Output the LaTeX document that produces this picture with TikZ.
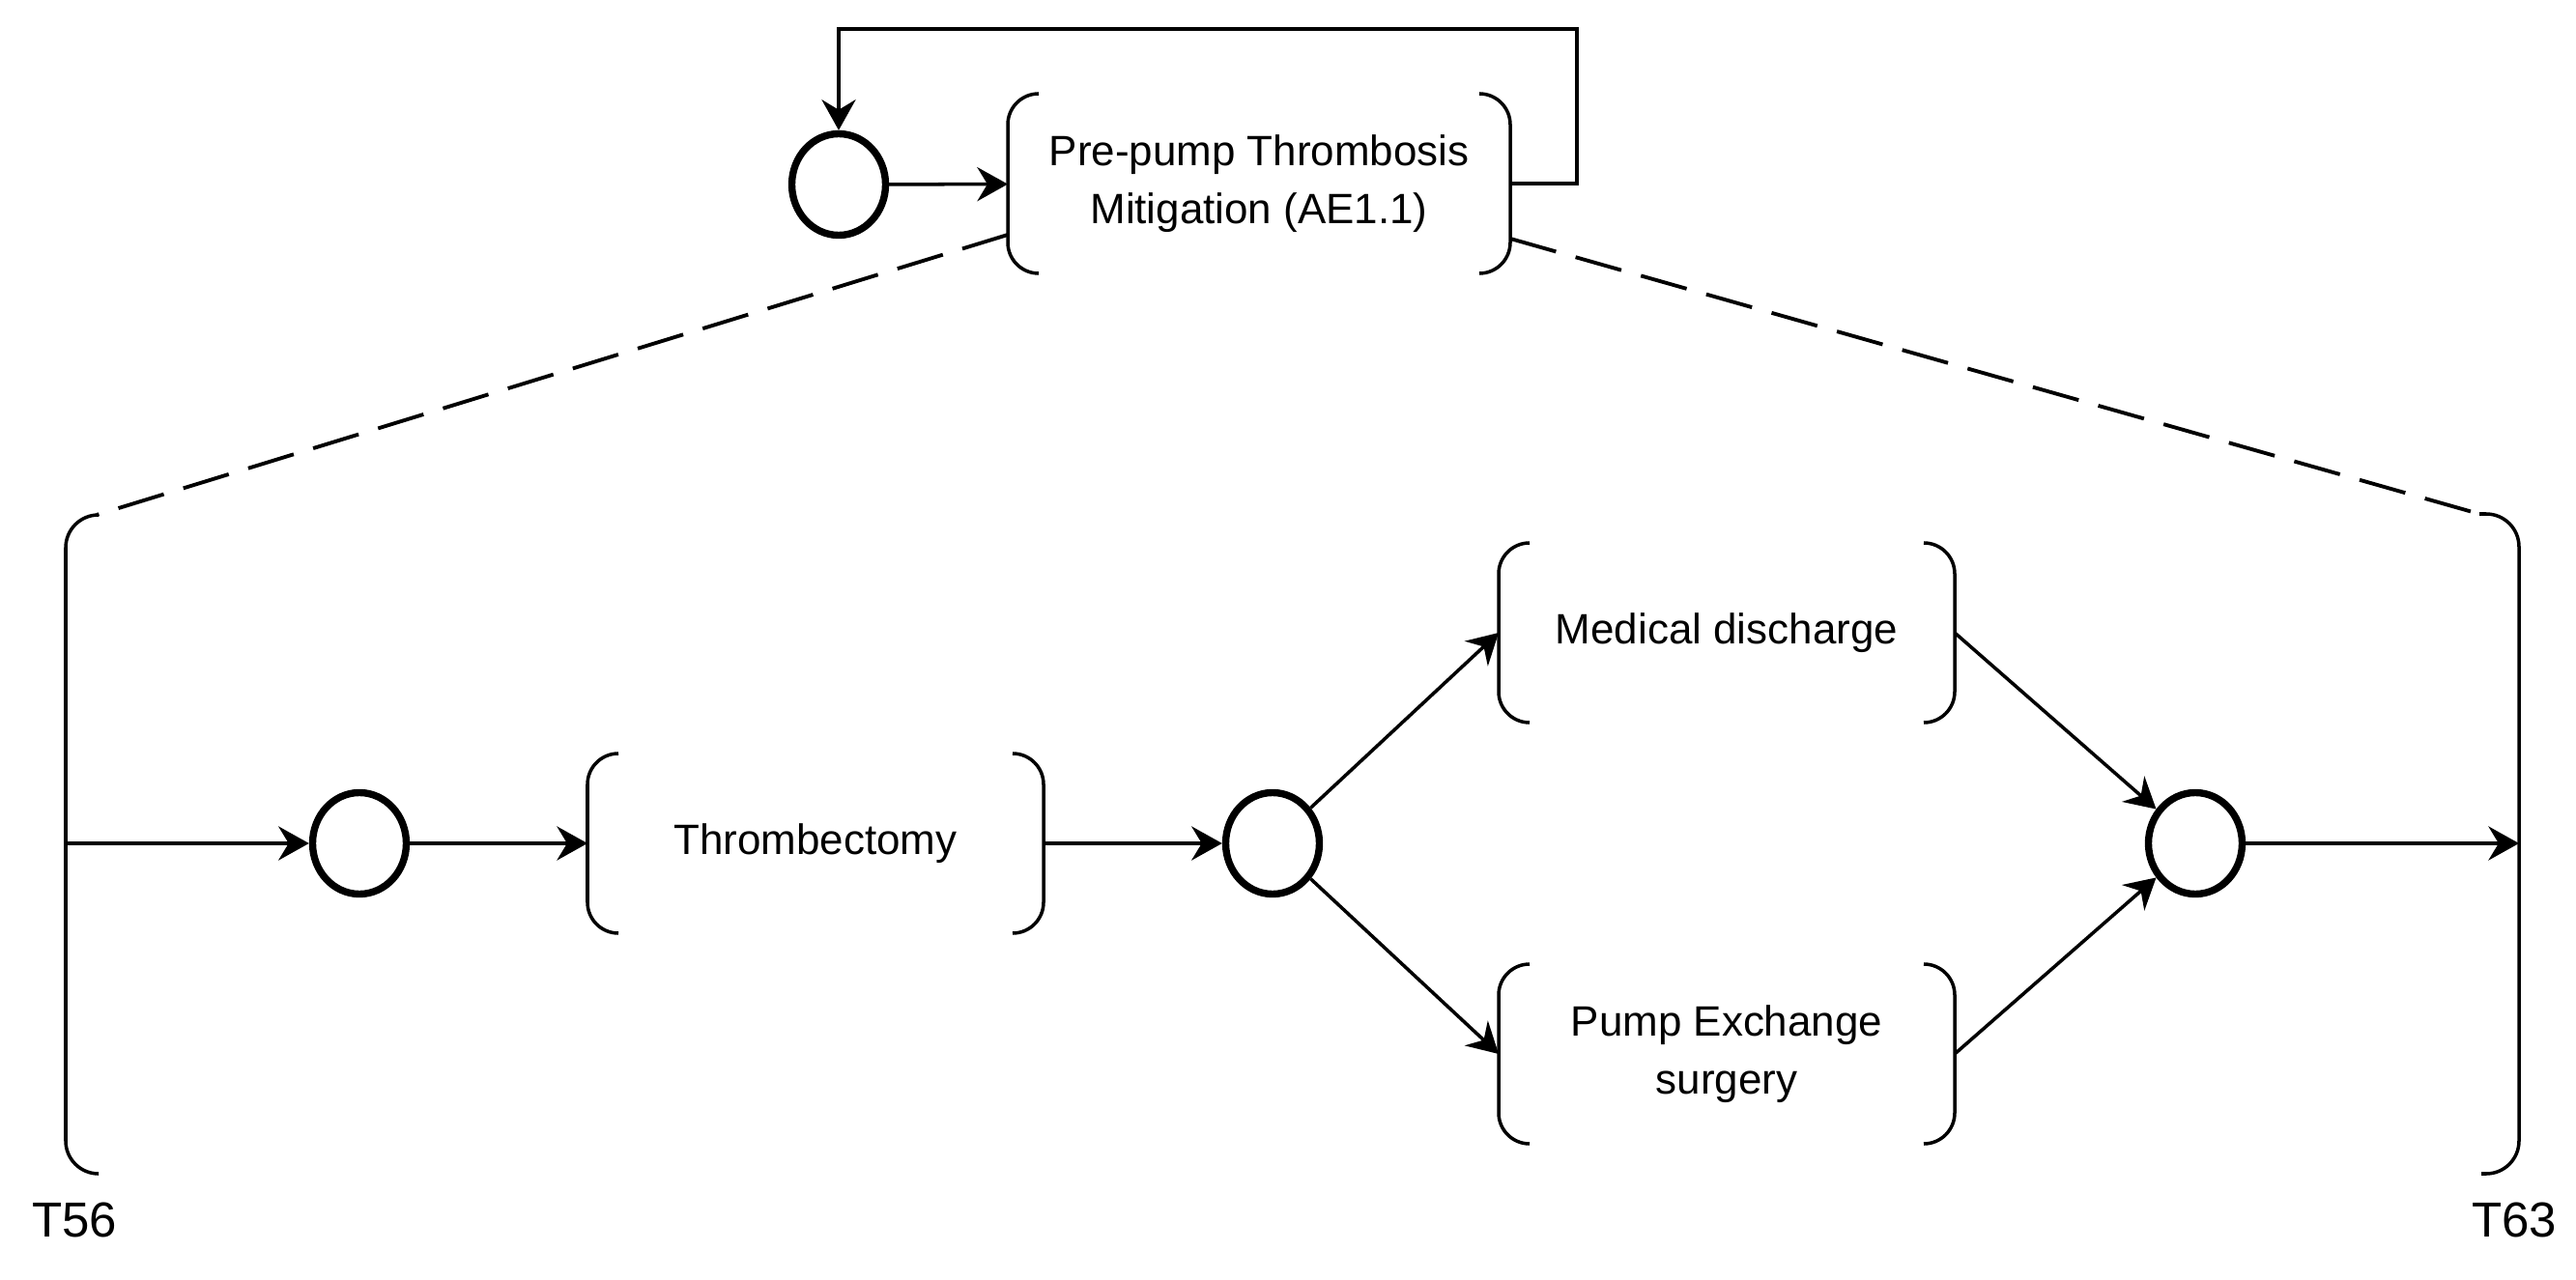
\documentclass[tikz,border=0pt]{standalone}
\usepackage{fontspec}
\setmainfont{Liberation Sans}
\usetikzlibrary{arrows.meta,shapes.geometric}

\newcommand{\bracketbox}[1]{%
  \draw[rounded corners=0.32cm] ([xshift=0.32cm]#1.north west) -- (#1.north west)
    -- (#1.south west) -- ([xshift=0.32cm]#1.south west);
  \draw[rounded corners=0.32cm] ([xshift=-0.32cm]#1.north east) -- (#1.north east)
    -- (#1.south east) -- ([xshift=-0.32cm]#1.south east);
}

\begin{document}
\begin{tikzpicture}[line width=1pt,
  flow/.style={-{Stealth[length=9pt,width=10pt,inset=3pt]}},
  gate/.style={ellipse, draw, line width=2.1pt, minimum width=0.97cm, minimum height=1.05cm, inner sep=0pt},
  task/.style={rectangle, inner sep=0pt, outer sep=0pt, minimum width=4.72cm, minimum height=1.86cm,
    align=center, font=\fontsize{12.5}{17}\selectfont},
  stamp/.style={font=\fontsize{14.5}{17}\selectfont},
  link/.style={line width=1.1pt, dash pattern=on 14pt off 6pt}]

  \useasboundingbox (0,0) rectangle (26.66,13.24);

  % top level
  \node[gate] (c0) at (8.68,11.33) {};
  \node[task, minimum width=5.20cm] (mit) at (13.03,11.34) {Pre-pump Thrombosis\\Mitigation (AE1.1)};
  \bracketbox{mit}
  \coordinate (loop) at (16.32,12.94);
  \draw[flow] (c0) -- (mit);
  \draw[flow] (mit.east) -| (loop) -| (c0);

  % outer brackets
  \coordinate (lt) at (1.00,7.91);
  \coordinate (lb) at (1.02,1.09);
  \coordinate (rt) at (25.66,7.92);
  \coordinate (rb) at (25.68,1.09);
  \coordinate (lin) at (0.68,4.51);
  \coordinate (rin) at (26.07,4.51);
  \draw[rounded corners=0.34cm] (lt) -- (0.68,7.91) -- (0.68,1.09) -- (lb);
  \draw[rounded corners=0.34cm] (rt) -- (26.07,7.92) -- (26.07,1.09) -- (rb);
  \node[stamp] (t56) at (0.77,0.61) {T56};
  \node[stamp] (t63) at (26.02,0.61) {T63};

  \draw[link] ([yshift=0.40cm]mit.south west) -- (lt);
  \draw[link] ([yshift=0.36cm]mit.south east) -- (rt);

  % lower level
  \node[gate] (c1) at (3.72,4.51) {};
  \node[task] (thr) at (8.44,4.51) {Thrombectomy};
  \node[gate] (c2) at (13.17,4.51) {};
  \node[task] (med) at (17.87,6.69) {Medical discharge};
  \node[task] (pex) at (17.87,2.33) {Pump Exchange\\surgery};
  \node[gate] (c3) at (22.72,4.51) {};
  \bracketbox{thr}
  \bracketbox{med}
  \bracketbox{pex}

  \draw[flow] (lin) -- (c1);
  \draw[flow] (c1) -- (thr);
  \draw[flow] (thr) -- (c2);
  \draw[flow] (c2) -- (med.west);
  \draw[flow] (c2) -- (pex.west);
  \draw[flow] (med.east) -- (c3);
  \draw[flow] (pex.east) -- (c3);
  \draw[flow] (c3) -- (rin);

\end{tikzpicture}
\end{document}
